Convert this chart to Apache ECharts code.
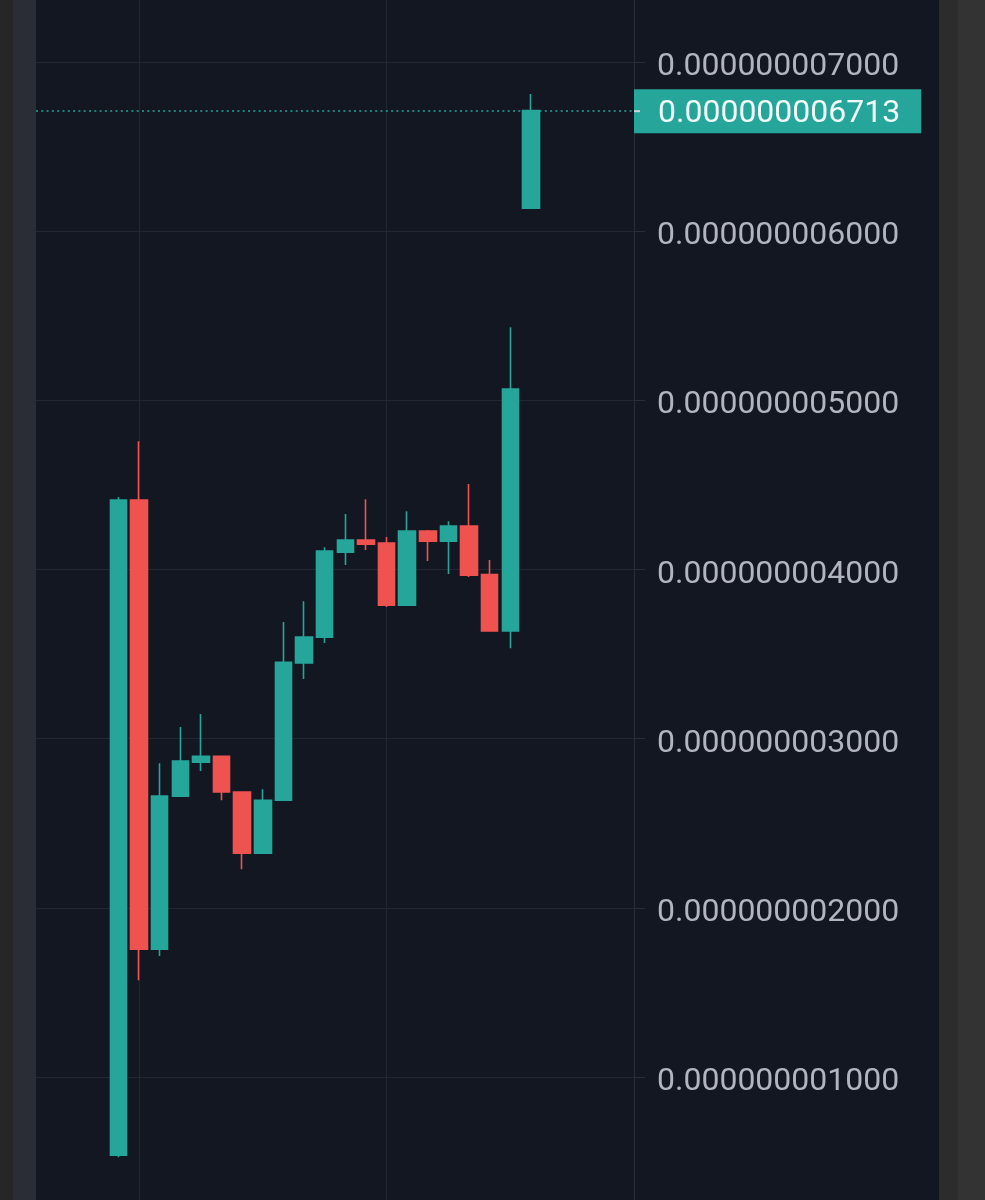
<!DOCTYPE html>
<html>
<head>
<meta charset="utf-8">
<script src="https://cdn.jsdelivr.net/npm/echarts@6/dist/echarts.min.js"></script>
<style>
html,body{margin:0;padding:0;background:#131722;overflow:hidden;width:985px;height:1200px;position:relative;}
#chart{position:absolute;left:0;top:-107px;width:985px;height:1353px;}
</style>
</head>
<body>
<div id="chart"></div>
<script>
// Candle values
const opens  = [0.537e-9, 4.410e-9, 1.755e-9, 2.660e-9, 2.861e-9, 2.896e-9, 2.684e-9, 2.323e-9, 2.636e-9, 3.447e-9, 3.600e-9, 4.103e-9, 4.174e-9, 4.156e-9, 3.789e-9, 4.227e-9, 4.168e-9, 4.257e-9, 3.970e-9, 3.636e-9, 6.137e-9];
const closes = [4.410e-9, 1.755e-9, 2.660e-9, 2.867e-9, 2.896e-9, 2.684e-9, 2.323e-9, 2.636e-9, 3.452e-9, 3.600e-9, 4.109e-9, 4.174e-9, 4.150e-9, 3.789e-9, 4.227e-9, 4.168e-9, 4.257e-9, 3.967e-9, 3.636e-9, 5.067e-9, 6.713e-9];
const lows   = [0.525e-9, 1.572e-9, 1.714e-9, 2.660e-9, 2.808e-9, 2.636e-9, 2.228e-9, 2.323e-9, 2.636e-9, 3.352e-9, 3.565e-9, 4.026e-9, 4.115e-9, 3.778e-9, 3.789e-9, 4.050e-9, 3.973e-9, 3.955e-9, 3.632e-9, 3.535e-9, 6.137e-9];
const highs  = [4.428e-9, 4.759e-9, 2.855e-9, 3.068e-9, 3.145e-9, 2.900e-9, 2.684e-9, 2.701e-9, 3.689e-9, 3.813e-9, 4.132e-9, 4.328e-9, 4.416e-9, 4.192e-9, 4.345e-9, 4.233e-9, 4.286e-9, 4.505e-9, 4.056e-9, 5.433e-9, 6.811e-9];
const lastPrice = 6.713e-9;
const yTicks = { min: 0, max: 8e-9, interval: 1e-9 };
const emptyBefore = 4, emptyAfter = 5;

// axis works in units of 1e-9 to avoid tiny-float precision issues
const UNIT = 1e-9;
const toUnit = (v) => Math.round(v / UNIT * 1e6) / 1e6;
const labelText = (u) => (u * UNIT).toFixed(12);

const slots = Array.from({length: emptyBefore + opens.length + emptyAfter}, (_, i) => String(i));
const candleData = [];
for (let i = 0; i < emptyBefore; i++) candleData.push('-');
for (let i = 0; i < opens.length; i++) candleData.push([toUnit(opens[i]), toUnit(closes[i]), toUnit(lows[i]), toUnit(highs[i])]);
for (let i = 0; i < emptyAfter; i++) candleData.push('-');

const UP = '#26a69a', DOWN = '#ef5350', GRIDC = '#232733';

const chart = echarts.init(document.getElementById('chart'), null, {renderer: 'canvas'});
chart.setOption({
  backgroundColor: '#131722',
  animation: false,
  graphic: [
    {type: 'rect', shape: {x: 0, y: 0, width: 13, height: 1400}, style: {fill: '#262626'}, z: 100},
    {type: 'rect', shape: {x: 13, y: 0, width: 23, height: 1400}, style: {fill: '#2a2d35'}, z: 100},
    {type: 'rect', shape: {x: 939, y: 0, width: 19, height: 1400}, style: {fill: '#2c2c2c'}, z: 100},
    {type: 'rect', shape: {x: 958, y: 0, width: 27, height: 1400}, style: {fill: '#333333'}, z: 100}
  ],
  grid: {left: 36, right: 351, top: 0, bottom: 0, containLabel: false, outerBoundsMode: 'none'},
  xAxis: {
    type: 'category',
    data: slots,
    boundaryGap: false,
    axisLine: {show: false},
    axisTick: {show: false},
    axisLabel: {show: false},
    splitLine: {show: true, interval: (i) => i >= 5 && (i - 5) % 12 === 0, lineStyle: {color: GRIDC, width: 1}}
  },
  yAxis: {
    type: 'value',
    position: 'right',
    min: toUnit(yTicks.min), max: toUnit(yTicks.max), interval: toUnit(yTicks.interval),
    axisLine: {show: true, lineStyle: {color: '#2a2e39', width: 1}},
    axisTick: {show: true, length: 11, lineStyle: {color: '#2a2e39'}},
    axisLabel: {
      show: true, margin: 23, color: '#b2b5be', fontSize: 32, fontFamily: 'Roboto',
      verticalAlign: 'top', lineHeight: 10,
      formatter: (v) => labelText(v)
    },
    splitLine: {show: true, lineStyle: {color: GRIDC, width: 1}}
  },
  series: [{
    type: 'candlestick',
    data: candleData,
    barWidth: 17,
    itemStyle: {color: UP, color0: DOWN, borderColor: UP, borderColor0: DOWN, borderWidth: 1.6},
    markLine: {
      silent: true,
      symbol: ['none', 'none'],
      data: [{yAxis: toUnit(lastPrice)}],
      lineStyle: {color: UP, type: [2, 3.3], width: 1.5},
      label: {
        show: true, position: 'end', distance: 0,
        formatter: () => '{t|}{v|' + lastPrice.toFixed(12) + '}',
        backgroundColor: UP, padding: [0, 21, 0, 0],
        rich: {
          t: {width: 6, height: 2, backgroundColor: '#d1d4dc', padding: 0},
          v: {color: '#f2fbfa', fontSize: 32, fontFamily: 'Roboto', lineHeight: 44, padding: [6, 0, 0, 18]}
        }
      }
    }
  }]
});
</script>
</body>
</html>
